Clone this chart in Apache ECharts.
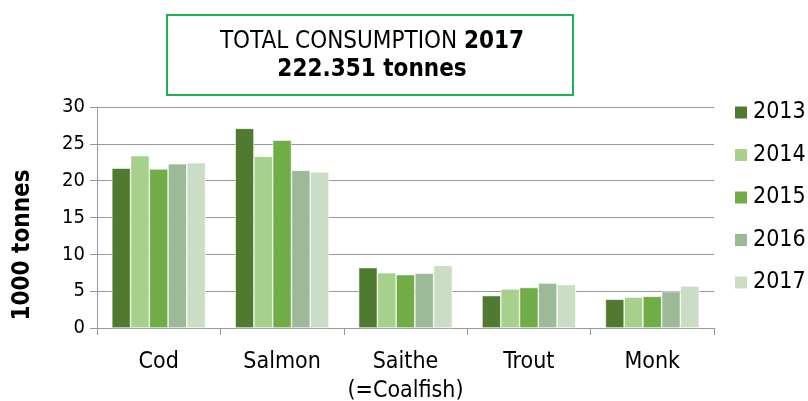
<!DOCTYPE html>
<html>
<head>
<meta charset="utf-8">
<script src="https://cdn.jsdelivr.net/npm/echarts@6/dist/echarts.min.js"></script>
<style>
  html, body { margin: 0; padding: 0; background: #fff; }
  #chart { width: 808px; height: 401px; }
</style>
</head>
<body>
<div id="chart"></div>
<script>
const categories = ['Cod', 'Salmon', 'Saithe\n(=Coalfish)', 'Trout', 'Monk']
const years = ['2013', '2014', '2015', '2016', '2017']
const v2013 = [21.7, 27.1, 8.2, 4.4, 3.9]
const v2014 = [23.4, 23.3, 7.5, 5.3, 4.2]
const v2015 = [21.6, 25.5, 7.25, 5.5, 4.3]
const v2016 = [22.3, 21.4, 7.45, 6.1, 4.95]
const v2017 = [22.45, 21.2, 8.5, 5.9, 5.7]
const colors = ['#4f7a2f', '#a8d08d', '#70ad47', '#9cb998', '#cbddc4']

const font = 'DejaVu Sans Condensed'
const chart = echarts.init(document.getElementById('chart'))

const seriesData = [v2013, v2014, v2015, v2016, v2017]

chart.setOption({
  animation: false,
  color: colors,
  textStyle: { fontFamily: font, color: '#000' },
  grid: { left: 97, right: 94, top: 107, bottom: 73, outerBoundsMode: 'none' },
  legend: {
    orient: 'vertical',
    left: 728,
    top: 96,
    itemWidth: 14,
    itemHeight: 14,
    itemGap: 19.5,
    icon: 'rect',
    textStyle: { fontSize: 23, lineHeight: 23, fontFamily: font, color: '#000' },
    data: years
  },
  graphic: [
    {
      type: 'rect',
      shape: { x: 167, y: 15, width: 406, height: 80 },
      style: { fill: '#fff', stroke: '#1fb254', lineWidth: 2 }
    },
    {
      type: 'text',
      x: 372,
      y: 56,
      style: {
        text: '{n|TOTAL CONSUMPTION }{b|2017}\n{b|222.351 tonnes}',
        align: 'center',
        verticalAlign: 'middle',
        fill: '#000',
        rich: {
          n: { fontSize: 24, fontFamily: font, lineHeight: 28 },
          b: { fontSize: 24, fontFamily: font, fontWeight: 'bold', lineHeight: 28 }
        }
      }
    }
  ],
  xAxis: {
    type: 'category',
    data: categories,
    axisLine: { lineStyle: { color: '#999' } },
    axisTick: { show: true, length: 7, lineStyle: { color: '#999' } },
    axisLabel: { interval: 0, fontSize: 23, color: '#000', margin: 20, lineHeight: 29, fontFamily: font }
  },
  yAxis: {
    type: 'value',
    min: 0,
    max: 30,
    interval: 5,
    name: '1000 tonnes',
    nameLocation: 'middle',
    nameGap: 62,
    nameRotate: 90,
    nameTextStyle: { fontSize: 24, fontWeight: 'bold', color: '#000', fontFamily: font, padding: [0, 0, 0, -55] },
    axisLine: { show: true, lineStyle: { color: '#999' } },
    axisTick: { show: true, length: 7, lineStyle: { color: '#999' } },
    axisLabel: { fontSize: 20, color: '#000', margin: 12, fontFamily: font },
    splitLine: { lineStyle: { color: '#999', width: 1.2 } }
  },
  series: years.map((y, i) => ({
    name: y,
    type: 'bar',
    data: seriesData[i],
    barGap: '0%',
    barCategoryGap: '24%',
    itemStyle: { borderColor: '#fff', borderWidth: 0.6 }
  }))
})
</script>
</body>
</html>
